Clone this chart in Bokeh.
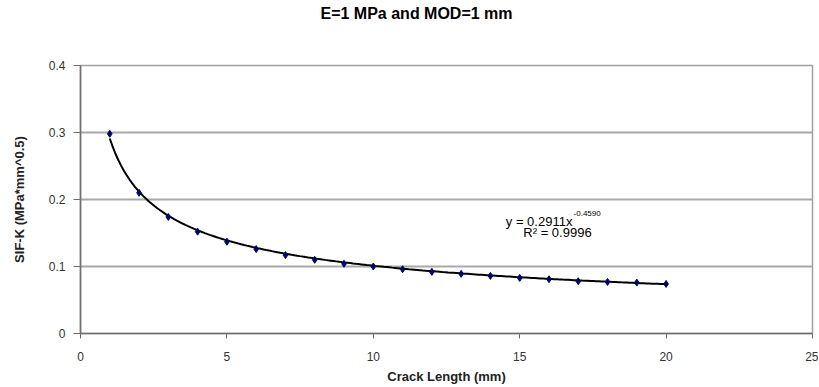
import numpy as np
from bokeh.plotting import figure
from bokeh.models import FixedTicker, Label, Range1d, Title
from bokeh.embed import file_html
from bokeh.resources import INLINE

# ---- data ----
crack_length = [1, 2, 3, 4, 5, 6, 7, 8, 9, 10, 11, 12, 13, 14, 15, 16, 17, 18, 19, 20]
sif_k = [0.298, 0.210, 0.174, 0.152, 0.137, 0.126, 0.117, 0.110, 0.104, 0.100,
         0.096, 0.092, 0.089, 0.086, 0.083, 0.081, 0.078, 0.077, 0.076, 0.074]
x_ticks = [0, 5, 10, 15, 20, 25]
y_ticks = [0, 0.1, 0.2, 0.3, 0.4]
y_tick_labels = ["0", "0.1", "0.2", "0.3", "0.4"]
fit_coef = 0.2911
fit_exp = -0.4590
r_squared = 0.9996
title_text = "E=1 MPa and MOD=1 mm"
x_label = "Crack Length (mm)"
y_label = "SIF-K (MPa*mm^0.5)"

FONT = "Liberation Sans"

p = figure(width=818, height=386, output_backend="svg", toolbar_location=None,
           x_range=Range1d(0, 25), y_range=Range1d(0, 0.4),
           min_border_left=80, min_border_right=6, min_border_top=65, min_border_bottom=53)
p.background_fill_color = "white"
p.border_fill_color = "white"
p.outline_line_color = "#a0a0a0"
p.outline_line_width = 1.5

# spacer panel between plot area and title
p.add_layout(Title(text=" ", text_font_size="1px", standoff=40), "above")

# title
p.title.text = title_text
p.title.align = "left"
p.title.offset = 240
p.title.standoff = 2
p.title.text_font = FONT
p.title.text_font_size = "16px"
p.title.text_font_style = "bold"
p.title.text_color = "#000000"

# axes
p.xaxis.ticker = FixedTicker(ticks=x_ticks)
p.yaxis.ticker = FixedTicker(ticks=y_ticks)
p.yaxis.major_label_overrides = {t: l for t, l in zip(y_ticks, y_tick_labels)}
for ax in (p.xaxis[0], p.yaxis[0]):
    ax.axis_line_color = "#6e6e6e"
    ax.axis_line_width = 1.5
    ax.major_tick_line_color = "#6e6e6e"
    ax.major_tick_in = 0
    ax.minor_tick_line_color = None
    ax.major_label_text_font = FONT
    ax.major_label_text_font_size = "12px"
    ax.major_label_text_color = "#333333"
    ax.axis_label_text_font = FONT
    ax.axis_label_text_font_style = "bold"
    ax.axis_label_text_font_size = "13px"
    ax.axis_label_text_color = "#222222"
p.xaxis.major_tick_out = 5
p.xaxis.major_label_standoff = 13
p.yaxis.major_tick_out = 7
p.yaxis.major_label_standoff = 8
p.xaxis.axis_label = x_label
p.yaxis.axis_label = y_label
p.xaxis.axis_label_standoff = 5
p.yaxis.axis_label_standoff = 19

# grid
p.xgrid.grid_line_color = None
p.ygrid.grid_line_color = "#a8a8a8"
p.ygrid.grid_line_width = 2

# power trendline from the displayed equation
xs = np.linspace(min(crack_length), max(crack_length), 200)
p.line(xs, fit_coef * xs ** fit_exp, line_color="#000000", line_width=2)

# data markers
p.scatter(crack_length, sif_k, marker="diamond", size=7,
          fill_color="#000080", line_color="#000080")

# equation annotation
p.add_layout(Label(x=16.80, y=0.1672, text="y = %.4fx" % fit_coef, text_align="right",
                   text_baseline="middle", text_font=FONT, text_font_size="13px",
                   text_color="#000000"))
p.add_layout(Label(x=16.84, y=0.179, text="%.4f" % fit_exp, text_align="left",
                   text_baseline="middle", text_font=FONT, text_font_size="8px",
                   text_color="#000000"))
p.add_layout(Label(x=16.29, y=0.1507, text="R\u00b2 = %.4f" % r_squared, text_align="center",
                   text_baseline="middle", text_font=FONT, text_font_size="13px",
                   text_color="#000000"))

open("out.html", "w").write(file_html(p, INLINE))
